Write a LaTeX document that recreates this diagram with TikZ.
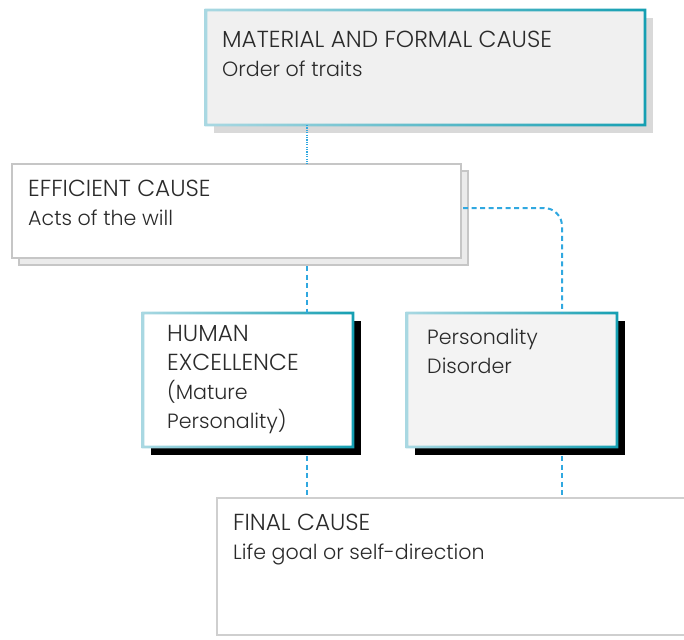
\documentclass[tikz,border=0pt]{standalone}
\usepackage{fontspec}
\setmainfont{Poppins}[UprightFont=* Light]
\usetikzlibrary{calc}
\definecolor{ink}{HTML}{2A2A2A}
\definecolor{lblue}{HTML}{A9D8E2}
\definecolor{tealb}{HTML}{159FB2}
\definecolor{link}{HTML}{30A8E0}
\definecolor{panel}{HTML}{F0F0F0}
\definecolor{panelb}{HTML}{F3F3F3}
\definecolor{softshadow}{HTML}{D9D9D9}
\definecolor{cardback}{HTML}{EBEBEB}
\definecolor{cardedge}{HTML}{C6C6C6}
% headings in capitals are set a size larger
\newcommand\capsline[1]{{\fontsize{23.2}{29}\selectfont#1}}
\tikzset{
  x=1pt, y=-1pt,
  box/.style={inner sep=0pt, outer sep=0pt},
  % anchored at the baseline of the last line
  label/.style={inner sep=0pt, anchor=base west, align=left, text=ink,
    font=\fontsize{20.6}{29}\selectfont},
  dotlink/.style={link, line width=1.8pt, dash pattern=on 1.2pt off 1.2pt},
  dashlink/.style={link, line width=2pt, dash pattern=on 5pt off 3.5pt},
}
% teal gradient frame around a rectangle
\newcommand\tealframe[1]{%
  \shade[even odd rule, left color=lblue, right color=tealb]
    ($(#1.north west)+(-1.3pt,1.3pt)$) rectangle ($(#1.south east)+(1.3pt,-1.3pt)$)
    ($(#1.north west)+(1.3pt,-1.3pt)$) rectangle ($(#1.south east)+(-1.3pt,1.3pt)$);}
\begin{document}
\begin{tikzpicture}
\useasboundingbox (0,0) rectangle (684,639);
\clip (0,0) rectangle (684,639);

% material and formal cause
\fill[softshadow] (214,18) rectangle (653,133);
\node[box, fill=panel, minimum width=439pt, minimum height=115pt, anchor=north west] (top) at (206,10) {};
\tealframe{top}
\node[label] (toptxt) at (222,77) {\capsline{MATERIAL AND FORMAL CAUSE}\\Order of traits};

% efficient cause (stacked card)
\draw[fill=cardback, draw=cardedge, line width=1.6pt] (19,171) rectangle (468,265);
\node[box, fill=white, draw=cardedge, line width=2pt, minimum width=449pt, minimum height=94pt, anchor=north west] (eff) at (12,164) {};
\node[label] (efftxt) at (28,225) {\capsline{EFFICIENT CAUSE}\\Acts of the will};

% human excellence
\fill[black] (151,321) rectangle (361,455);
\node[box, fill=white, minimum width=210pt, minimum height=134pt, anchor=north west] (hum) at (143,313) {};
\tealframe{hum}
\node[label] (humtxt) at (167,428) {\capsline{HUMAN}\\\capsline{EXCELLENCE}\\(Mature\\Personality)};

% personality disorder
\fill[black] (415,321) rectangle (625,455);
\node[box, fill=panelb, minimum width=210pt, minimum height=134pt, anchor=north west] (dis) at (407,313) {};
\tealframe{dis}
\node[label] (distxt) at (427,373) {Personality\\Disorder};

% final cause
\node[box, fill=white, draw=cardedge!85, line width=2pt, minimum width=490pt, minimum height=137pt, anchor=north west] (fin) at (217,498) {};
\node[label] (fintxt) at (233,559) {\capsline{FINAL CAUSE}\\Life goal or self-direction};

% connectors
\coordinate (lx) at (307,0);
\coordinate (rx) at (562,0);
\draw[dotlink] (lx |- top.south) -- (lx |- eff.north);
\draw[dashlink] ($(lx |- eff.south)+(0,8)$) -- (lx |- hum.north);
\draw[dashlink, rounded corners=18pt] ($(eff.east)+(2,-3)$) -- ($(rx |- eff.east)+(0,-3)$) -- (rx |- dis.north);
\draw[dashlink] ($(lx |- hum.south)+(0,9)$) -- (lx |- fin.north);
\draw[dashlink] ($(rx |- dis.south)+(0,9)$) -- (rx |- fin.north);
\end{tikzpicture}
\end{document}
